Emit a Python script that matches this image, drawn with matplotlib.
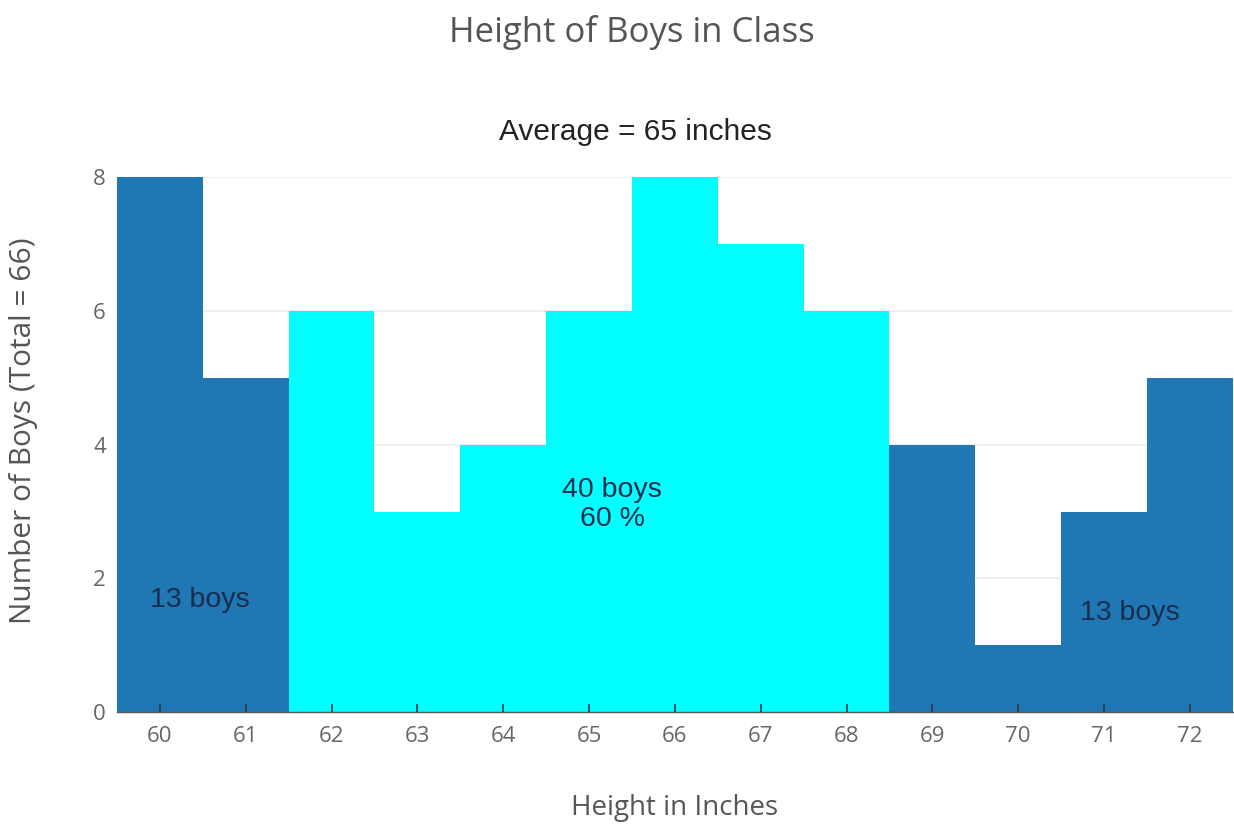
import matplotlib
matplotlib.use("Agg")
import matplotlib.pyplot as plt

heights = [60, 61, 62, 63, 64, 65, 66, 67, 68, 69, 70, 71, 72]
counts = [8, 5, 6, 3, 4, 6, 8, 7, 6, 4, 1, 3, 5]
middle = [62, 63, 64, 65, 66, 67, 68]
y_ticks = [0, 2, 4, 6, 8]

outer_color = "#1f77b4"
middle_color = "#00ffff"
colors = [middle_color if h in middle else outer_color for h in heights]

fig = plt.figure(figsize=(12.34, 8.25), dpi=100)
ax = fig.add_axes([0.0948, 0.137, 0.9042, 0.648])

# horizontal guides sit beneath the bars; tick marks stay on top
for yv in y_ticks[1:]:
    ax.axhline(yv, color="#eeeeee", linewidth=1.2, zorder=0)

ax.bar(heights, counts, width=1.0, color=colors, linewidth=0, zorder=1)

ax.set_xlim(59.5, 72.5)
ax.set_ylim(0, 8)
ax.set_xticks(heights)
ax.set_yticks(y_ticks)
ax.set_axisbelow(False)

for side in ["top", "right", "left"]:
    ax.spines[side].set_visible(False)
ax.spines["bottom"].set_color("#555555")
ax.spines["bottom"].set_linewidth(1.0)

ax.tick_params(axis="x", direction="in", length=6, width=1.2, color="#2a3a50",
               labelsize=16, labelcolor="#666666", pad=10)
ax.tick_params(axis="y", length=0, labelsize=16, labelcolor="#666666", pad=8)
for lab in ax.get_xticklabels() + ax.get_yticklabels():
    lab.set_fontfamily("Open Sans")

ax.set_xlabel("Height in Inches", fontsize=20, color="#555555",
              fontfamily="Open Sans", labelpad=34)
ax.set_ylabel("Number of Boys (Total = 66)", fontsize=21.5, color="#555555",
              fontfamily="Open Sans", labelpad=40)
ax.yaxis.label.set_y(0.527)

fig.text(0.512, 0.96, "Height of Boys in Class", ha="center", va="center",
         fontsize=25, color="#555555", fontfamily="Open Sans")
ax.text(0.465, 1.085, "Average = 65 inches", transform=ax.transAxes,
        ha="center", va="center", fontsize=21.5, color="#222222",
        fontfamily="Liberation Sans")

note_kw = dict(ha="center", va="center", fontsize=20.5, color="#1a2d4d",
               fontfamily="Liberation Sans", zorder=4)
ax.text(60.47, 1.67, "13 boys", **note_kw)
ax.text(65.27, 3.1, "40 boys\n60 %", linespacing=1.15, **note_kw)
ax.text(71.3, 1.48, "13 boys", **note_kw)

fig.savefig("out.png", dpi=100, facecolor="white")
